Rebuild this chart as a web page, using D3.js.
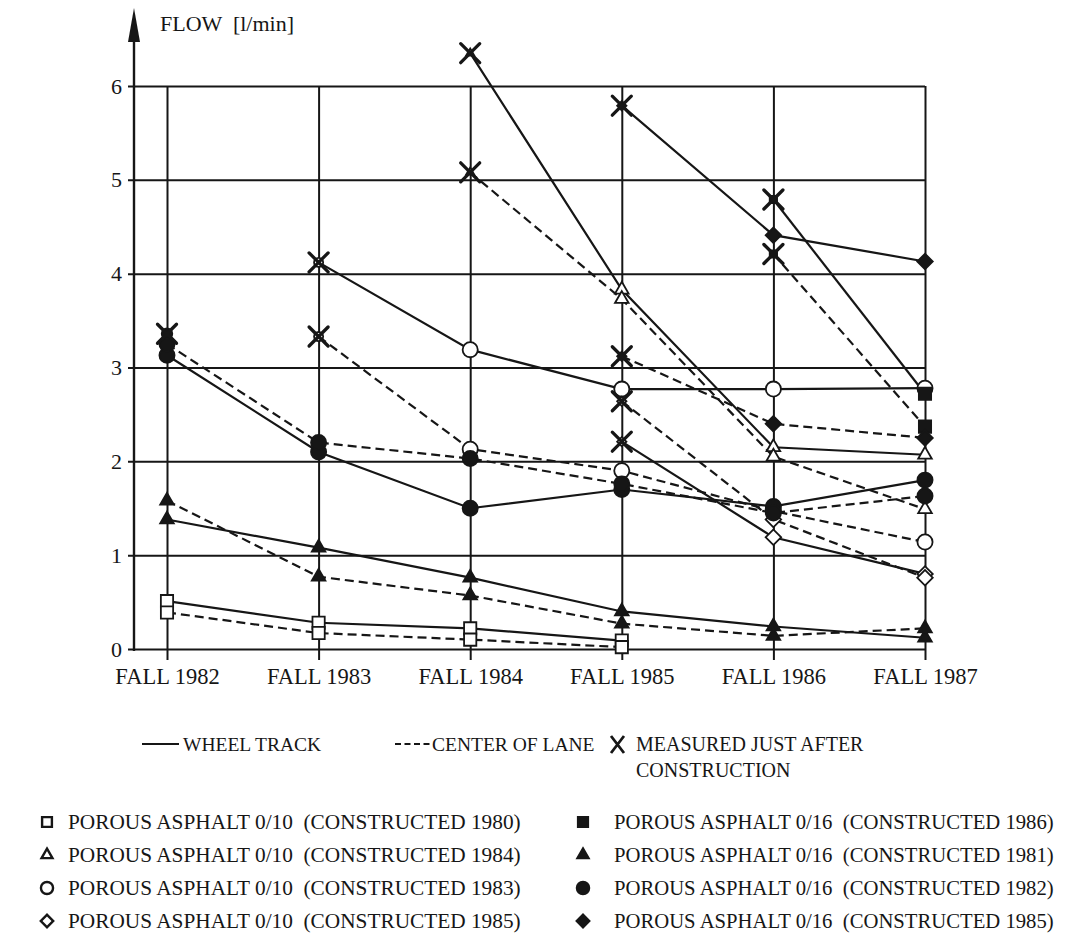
<!DOCTYPE html>
<html><head><meta charset="utf-8">
<script src="https://cdn.jsdelivr.net/npm/d3@7"></script>
<style>
body{margin:0;background:#fff}
svg text{font-family:"Liberation Serif","DejaVu Serif","Tinos","Times New Roman",Times,serif;fill:#161616;white-space:pre}
</style>
</head><body>
<svg id="chart" width="1068" height="951"></svg>
<script>
// ---------------- DATA ----------------
const categories = ["FALL 1982","FALL 1983","FALL 1984","FALL 1985","FALL 1986","FALL 1987"];
const yTicks = [0,1,2,3,4,5,6];
const yLabel = "FLOW  [l/min]";

// PA 0/10 constructed 1980 (open square)
const pa010_80_wheel  = [0.51,0.28,0.22,0.09,null,null];
const pa010_80_center = [0.39,0.17,0.10,0.02,null,null];
// PA 0/10 constructed 1984 (open triangle)
const pa010_84_wheel  = [null,null,6.35,3.83,2.15,2.07];
const pa010_84_center = [null,null,5.08,3.73,2.05,1.49];
// PA 0/10 constructed 1983 (open circle)
const pa010_83_wheel  = [null,4.12,3.19,2.77,2.77,2.78];
const pa010_83_center = [null,3.33,2.13,1.90,1.47,1.14];
// PA 0/10 constructed 1985 (open diamond)
const pa010_85_wheel  = [null,null,null,2.21,1.19,0.80];
const pa010_85_center = [null,null,null,2.64,1.38,0.76];
// PA 0/16 constructed 1986 (filled square)
const pa016_86_wheel  = [null,null,null,null,4.79,2.72];
const pa016_86_center = [null,null,null,null,4.21,2.37];
// PA 0/16 constructed 1981 (filled triangle)
const pa016_81_wheel  = [1.38,1.08,0.76,0.40,0.24,0.12];
const pa016_81_center = [1.58,0.77,0.57,0.27,0.14,0.22];
// PA 0/16 constructed 1982 (filled circle)
const pa016_82_wheel  = [3.13,2.10,1.50,1.70,1.52,1.80];
const pa016_82_center = [3.25,2.20,2.03,1.76,1.45,1.63];
const pa016_82_after  = [3.36,null,null,null,null,null];
// PA 0/16 constructed 1985 (filled diamond)
const pa016_85_wheel  = [null,null,null,5.79,4.41,4.13];
const pa016_85_center = [null,null,null,3.12,2.40,2.25];

const seriesNames = ["PA 0/10 1980","PA 0/10 1984","PA 0/10 1983","PA 0/10 1985","PA 0/16 1986","PA 0/16 1981","PA 0/16 1982","PA 0/16 1985"];
const seriesSymbols = ["square","triangle","circle","diamond","square","triangle","circle","diamond"];
const seriesFilled = [false,false,false,false,true,true,true,true];
const seriesWheel = [pa010_80_wheel,pa010_84_wheel,pa010_83_wheel,pa010_85_wheel,pa016_86_wheel,pa016_81_wheel,pa016_82_wheel,pa016_85_wheel];
const seriesCenter = [pa010_80_center,pa010_84_center,pa010_83_center,pa010_85_center,pa016_86_center,pa016_81_center,pa016_82_center,pa016_85_center];
const seriesFirstIsAfterConstruction = [false,true,true,true,true,false,false,true];

const legendTop = ["WHEEL TRACK","CENTER OF LANE","MEASURED JUST AFTER","CONSTRUCTION"];
const legendLeft = ["POROUS ASPHALT 0/10  (CONSTRUCTED 1980)","POROUS ASPHALT 0/10  (CONSTRUCTED 1984)","POROUS ASPHALT 0/10  (CONSTRUCTED 1983)","POROUS ASPHALT 0/10  (CONSTRUCTED 1985)"];
const legendRight = ["POROUS ASPHALT 0/16  (CONSTRUCTED 1986)","POROUS ASPHALT 0/16  (CONSTRUCTED 1981)","POROUS ASPHALT 0/16  (CONSTRUCTED 1982)","POROUS ASPHALT 0/16  (CONSTRUCTED 1985)"];

// ---------------- DRAW ----------------
const INK = "#161616";
const FONT = '"Liberation Serif","DejaVu Serif","Tinos","Times New Roman",Times,serif';
const svg = d3.select("#chart");
const axisX = 134, gridRight = 925, yBottom = 660;
const x = d3.scalePoint().domain(categories).range([167, gridRight]);
const y = d3.scaleLinear().domain([0, 6]).range([649, 86]);

// horizontal grid + y tick labels
const gy = svg.append("g").attr("transform", `translate(${axisX - 6},0)`)
  .call(d3.axisLeft(y).tickValues(yTicks).tickFormat(d3.format("d"))
    .tickSizeInner(-(gridRight - axisX + 6)).tickSizeOuter(0).tickPadding(6));
gy.attr("font-family", FONT);
gy.select(".domain").remove();
gy.selectAll(".tick line").attr("stroke", INK).attr("stroke-width", 2);
gy.selectAll(".tick text").attr("font-size", 22).attr("fill", INK).style("font-family", FONT);

// vertical grid + x labels
const gx = svg.append("g").attr("transform", `translate(0,${yBottom})`)
  .call(d3.axisBottom(x).tickSizeInner(-(yBottom - y(6))).tickSizeOuter(0).tickPadding(8));
gx.attr("font-family", FONT);
gx.select(".domain").remove();
gx.selectAll(".tick line").attr("stroke", INK).attr("stroke-width", 2);
gx.selectAll(".tick text").attr("font-size", 22.5).attr("fill", INK).style("font-family", FONT);

// y axis with arrow
svg.append("line").attr("x1", axisX).attr("x2", axisX).attr("y1", y(0) + 2).attr("y2", 30)
  .attr("stroke", INK).attr("stroke-width", 2.4);
svg.append("path").attr("d", `M${axisX},8 L${axisX - 6},42 L${axisX + 6},42 Z`).attr("fill", INK);
svg.append("text").attr("x", 160).attr("y", 31).attr("font-size", 22).style("font-family", FONT).text(yLabel);

// symbols
function symPath(name, scale) {
  const s = scale || 1;
  if (name === "square") return d3.symbol(d3.symbolSquare, 150 * s * s)();
  if (name === "triangle") return d3.symbol(d3.symbolTriangle, 80 * s * s)();
  if (name === "circle") return d3.symbol(d3.symbolCircle, 180 * s * s)();
  return d3.symbol(d3.symbolSquare, 120 * s * s)();
}
function drawSym(g, name, filled, cx, cy, scale, sw) {
  g.append("path").attr("d", symPath(name, scale))
    .attr("transform", `translate(${cx},${cy})` + (name === "diamond" ? " rotate(45)" : ""))
    .attr("fill", filled ? INK : "#fff").attr("stroke", INK).attr("stroke-width", sw || 1.8);
}
function drawX(g, cx, cy, r) {
  g.append("path").attr("d", `M${-r},${-r}L${r},${r}M${r},${-r}L${-r},${r}`)
    .attr("transform", `translate(${cx},${cy})`).attr("stroke", INK)
    .attr("stroke-width", 3.3).attr("stroke-linecap", "round").attr("fill", "none");
}

const lineGen = d3.line().defined(d => d.v != null).x(d => x(d.c)).y(d => y(d.v));
const linesG = svg.append("g");
const marksG = svg.append("g");

seriesNames.forEach((name, i) => {
  [[seriesWheel[i], null], [seriesCenter[i], "9,5"]].forEach(([vals, dash]) => {
    const pts = vals.map((v, k) => ({c: categories[k], v}));
    linesG.append("path").datum(pts).attr("d", lineGen).attr("fill", "none")
      .attr("stroke", INK).attr("stroke-width", 2.2).attr("stroke-dasharray", dash);
  });
});
seriesNames.forEach((name, i) => {
  [seriesWheel[i], seriesCenter[i]].forEach(vals => {
    const first = vals.findIndex(v => v != null);
    vals.forEach((v, k) => {
      if (v == null) return;
      const after = seriesFirstIsAfterConstruction[i] && k === first;
      drawSym(marksG, seriesSymbols[i], seriesFilled[i], x(categories[k]), y(v), after ? 0.6 : 1);
      if (after) drawX(marksG, x(categories[k]), y(v), 9.5);
    });
  });
});
pa016_82_after.forEach((v, k) => {
  if (v == null) return;
  drawSym(marksG, "circle", true, x(categories[k]), y(v), 0.7);
  drawX(marksG, x(categories[k]), y(v), 9.5);
});

// top legend
const lg = svg.append("g").attr("font-family", FONT);
lg.append("line").attr("x1", 142).attr("x2", 179).attr("y1", 744).attr("y2", 744)
  .attr("stroke", INK).attr("stroke-width", 2.2);
lg.append("text").attr("x", 183).attr("y", 751).attr("font-size", 19.5).text(legendTop[0]);
lg.append("line").attr("x1", 395).attr("x2", 430).attr("y1", 744).attr("y2", 744)
  .attr("stroke", INK).attr("stroke-width", 2.2).attr("stroke-dasharray", "6,3.5");
lg.append("text").attr("x", 432).attr("y", 751).attr("font-size", 19.5).text(legendTop[1]);
lg.append("path").attr("d", "M611,736L624,753M624,736L611,753").attr("stroke", INK)
  .attr("stroke-width", 2.8).attr("fill", "none");
lg.append("text").attr("x", 636).attr("y", 751).attr("font-size", 20).text(legendTop[2]);
lg.append("text").attr("x", 636).attr("y", 777).attr("font-size", 20).text(legendTop[3]);

// bottom legend
const rowsY = [822, 855, 888, 921];
legendLeft.forEach((t, k) => {
  drawSym(lg, seriesSymbols[k], seriesFilled[k], 47, rowsY[k], 0.8, 2.4);
  lg.append("text").attr("x", 68).attr("y", rowsY[k] + 7).attr("font-size", 21.3).text(t);
});
legendRight.forEach((t, k) => {
  drawSym(lg, seriesSymbols[k + 4], seriesFilled[k + 4], 583, rowsY[k], 0.8, 2.4);
  lg.append("text").attr("x", 614).attr("y", rowsY[k] + 7).attr("font-size", 20.7).text(t);
});
</script>
</body></html>
